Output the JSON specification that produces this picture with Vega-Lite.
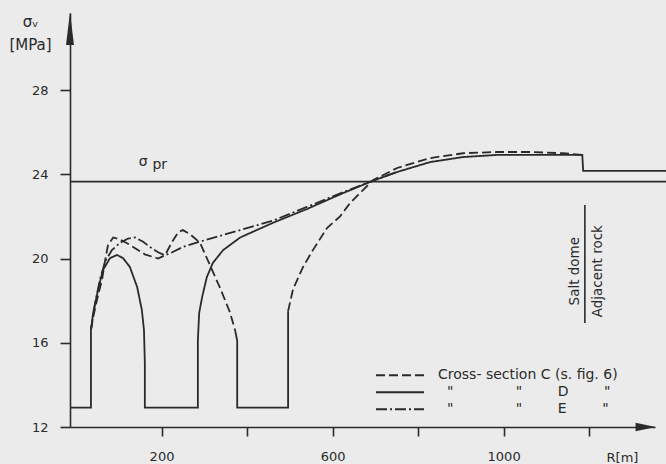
{
  "$schema": "https://vega.github.io/schema/vega-lite/v6.json",
  "width": 585,
  "height": 414,
  "autosize": {"type": "none"},
  "padding": {"left": 70, "top": 13, "right": 11, "bottom": 37},
  "background": "#ebebeb",
  "config": {
    "view": {"stroke": null},
    "font": "DejaVu Sans",
    "axis": {
      "domainColor": "#2a2a2a", "domainWidth": 1.6, "tickColor": "#2a2a2a", "tickWidth": 1.6,
      "labelColor": "#2a2a2a", "labelFontSize": 13, "titleColor": "#2a2a2a", "titleFontSize": 13,
      "titleFontWeight": "normal", "grid": false
    }
  },
  "datasets": {
    "curves": [
      {"s": "D", "seg": "D", "R": -14, "v": 12.92}, {"s": "D", "seg": "D", "R": 35, "v": 12.92},
      {"s": "D", "seg": "D", "R": 35, "v": 16.61}, {"s": "D", "seg": "D", "R": 40, "v": 17.41},
      {"s": "D", "seg": "D", "R": 51.5, "v": 18.5}, {"s": "D", "seg": "D", "R": 63, "v": 19.45},
      {"s": "D", "seg": "D", "R": 79.5, "v": 20.02}, {"s": "D", "seg": "D", "R": 96, "v": 20.17},
      {"s": "D", "seg": "D", "R": 110, "v": 20.02}, {"s": "D", "seg": "D", "R": 126, "v": 19.6},
      {"s": "D", "seg": "D", "R": 143, "v": 18.65}, {"s": "D", "seg": "D", "R": 154, "v": 17.56},
      {"s": "D", "seg": "D", "R": 159, "v": 16.61}, {"s": "D", "seg": "D", "R": 161, "v": 15.04},
      {"s": "D", "seg": "D", "R": 161, "v": 12.92}, {"s": "D", "seg": "D", "R": 285, "v": 12.92},
      {"s": "D", "seg": "D", "R": 285, "v": 16.1}, {"s": "D", "seg": "D", "R": 288, "v": 17.41},
      {"s": "D", "seg": "D", "R": 295, "v": 18.17}, {"s": "D", "seg": "D", "R": 306, "v": 19.12},
      {"s": "D", "seg": "D", "R": 320, "v": 19.79}, {"s": "D", "seg": "D", "R": 344, "v": 20.4},
      {"s": "D", "seg": "D", "R": 384, "v": 21.0}, {"s": "D", "seg": "D", "R": 461, "v": 21.7},
      {"s": "D", "seg": "D", "R": 540, "v": 22.35}, {"s": "D", "seg": "D", "R": 618, "v": 23.05},
      {"s": "D", "seg": "D", "R": 695, "v": 23.7}, {"s": "D", "seg": "D", "R": 751, "v": 24.11},
      {"s": "D", "seg": "D", "R": 828, "v": 24.58}, {"s": "D", "seg": "D", "R": 905, "v": 24.82},
      {"s": "D", "seg": "D", "R": 985, "v": 24.92}, {"s": "D", "seg": "D", "R": 1062, "v": 24.92},
      {"s": "D", "seg": "D", "R": 1139, "v": 24.92}, {"s": "D", "seg": "D", "R": 1184, "v": 24.92},
      {"s": "D", "seg": "D", "R": 1186, "v": 24.16}, {"s": "D", "seg": "D", "R": 1380, "v": 24.16},

      {"s": "C", "seg": "C1", "R": 35, "v": 16.61}, {"s": "C", "seg": "C1", "R": 40, "v": 17.2},
      {"s": "C", "seg": "C1", "R": 51, "v": 18.2}, {"s": "C", "seg": "C1", "R": 61, "v": 19.0},
      {"s": "C", "seg": "C1", "R": 68, "v": 19.9}, {"s": "C", "seg": "C1", "R": 75, "v": 20.65},
      {"s": "C", "seg": "C1", "R": 87, "v": 21.0}, {"s": "C", "seg": "C1", "R": 103, "v": 20.9},
      {"s": "C", "seg": "C1", "R": 126, "v": 20.65}, {"s": "C", "seg": "C1", "R": 161, "v": 20.2},
      {"s": "C", "seg": "C1", "R": 192, "v": 20.0}, {"s": "C", "seg": "C1", "R": 208, "v": 20.15},
      {"s": "C", "seg": "C1", "R": 225, "v": 20.8}, {"s": "C", "seg": "C1", "R": 239, "v": 21.25},
      {"s": "C", "seg": "C1", "R": 250, "v": 21.35}, {"s": "C", "seg": "C1", "R": 267, "v": 21.15},
      {"s": "C", "seg": "C1", "R": 290, "v": 20.75}, {"s": "C", "seg": "C1", "R": 313, "v": 19.7},
      {"s": "C", "seg": "C1", "R": 337, "v": 18.6}, {"s": "C", "seg": "C1", "R": 360, "v": 17.45},
      {"s": "C", "seg": "C1", "R": 372, "v": 16.6},

      {"s": "Cb", "seg": "Cb", "R": 372, "v": 16.6}, {"s": "Cb", "seg": "Cb", "R": 377, "v": 16.1},
      {"s": "Cb", "seg": "Cb", "R": 377, "v": 12.92}, {"s": "Cb", "seg": "Cb", "R": 496, "v": 12.92},
      {"s": "Cb", "seg": "Cb", "R": 496, "v": 17.5},

      {"s": "C", "seg": "C2", "R": 496, "v": 17.5}, {"s": "C", "seg": "C2", "R": 507.6, "v": 18.55},
      {"s": "C", "seg": "C2", "R": 531, "v": 19.6}, {"s": "C", "seg": "C2", "R": 554, "v": 20.4},
      {"s": "C", "seg": "C2", "R": 587, "v": 21.45}, {"s": "C", "seg": "C2", "R": 617.5, "v": 22.0},
      {"s": "C", "seg": "C2", "R": 641, "v": 22.64}, {"s": "C", "seg": "C2", "R": 671, "v": 23.25},
      {"s": "C", "seg": "C2", "R": 695, "v": 23.73}, {"s": "C", "seg": "C2", "R": 751, "v": 24.3},
      {"s": "C", "seg": "C2", "R": 828, "v": 24.77}, {"s": "C", "seg": "C2", "R": 905, "v": 25.0},
      {"s": "C", "seg": "C2", "R": 985, "v": 25.06}, {"s": "C", "seg": "C2", "R": 1062, "v": 25.06},
      {"s": "C", "seg": "C2", "R": 1139, "v": 25.0}, {"s": "C", "seg": "C2", "R": 1184, "v": 24.92},

      {"s": "E", "seg": "E", "R": 35, "v": 16.61}, {"s": "E", "seg": "E", "R": 44, "v": 17.8},
      {"s": "E", "seg": "E", "R": 56, "v": 19.0}, {"s": "E", "seg": "E", "R": 68, "v": 19.85},
      {"s": "E", "seg": "E", "R": 84, "v": 20.4}, {"s": "E", "seg": "E", "R": 103, "v": 20.75},
      {"s": "E", "seg": "E", "R": 122, "v": 20.95}, {"s": "E", "seg": "E", "R": 138, "v": 21.0},
      {"s": "E", "seg": "E", "R": 157, "v": 20.8}, {"s": "E", "seg": "E", "R": 173, "v": 20.55},
      {"s": "E", "seg": "E", "R": 192, "v": 20.3}, {"s": "E", "seg": "E", "R": 208, "v": 20.15},
      {"s": "E", "seg": "E", "R": 225, "v": 20.3}, {"s": "E", "seg": "E", "R": 250, "v": 20.55},
      {"s": "E", "seg": "E", "R": 306, "v": 20.9}, {"s": "E", "seg": "E", "R": 384, "v": 21.35},
      {"s": "E", "seg": "E", "R": 461, "v": 21.8}, {"s": "E", "seg": "E", "R": 540, "v": 22.45},
      {"s": "E", "seg": "E", "R": 618, "v": 23.1}, {"s": "E", "seg": "E", "R": 695, "v": 23.7},
      {"s": "E", "seg": "E", "R": 751, "v": 24.11}
    ],
    "pr": [{"R": -14, "v": 23.65}, {"R": 1380, "v": 23.65}],
    "sigma": [{"R": 157, "v": 24.58, "t": "σ"}, {"R": 196, "v": 24.42, "t": "pr"}],
    "rock": [{"R": 1167, "v": 19.4, "t": "Salt dome"}, {"R": 1221, "v": 19.4, "t": "Adjacent rock"}],
    "iface": [{"R": 1190, "v": 16.94, "v2": 22.54}],
    "yarrow": [{"R": -14, "v": 30.92}],
    "xarrow": [{"R": 1332, "v": 12}]
  },
  "layer": [
    {
      "data": {"name": "pr"},
      "mark": {"type": "line", "color": "#2a2a2a", "strokeWidth": 1.6},
      "encoding": {
        "x": {"field": "R", "type": "quantitative",
          "scale": {"domain": [-14, 1354], "nice": false, "zero": false},
          "axis": {"values": [200, 400, 600, 800, 1000, 1200],
            "labelExpr": "datum.value == 200 || datum.value == 600 || datum.value == 1000 ? datum.label : ''",
            "tickSize": 9, "labelPadding": 14, "format": "d",
            "title": "R[m]", "titleX": 552, "titleY": 24, "titleAnchor": "middle", "titleBaseline": "top", "titleAlign": "center"}},
        "y": {"field": "v", "type": "quantitative",
          "scale": {"domain": [12, 31.66], "nice": false, "zero": false},
          "axis": {"values": [12, 16, 20, 24, 28], "tickSize": 10, "labelPadding": 12,
            "title": ["σᵥ", "[MPa]"], "titleAngle": 0, "titleX": -40, "titleY": 1, "titleFontSize": 15,
            "titleAlign": "center", "titleBaseline": "top", "titleLineHeight": 23, "titleAnchor": "start"}}
      }
    },
    {
      "data": {"name": "curves"},
      "mark": {"type": "line", "color": "#2a2a2a", "strokeWidth": 1.8},
      "encoding": {
        "x": {"field": "R", "type": "quantitative"},
        "y": {"field": "v", "type": "quantitative"},
        "detail": {"field": "seg"},
        "order": {"value": null},
        "strokeDash": {"field": "s", "type": "nominal",
          "scale": {"domain": ["C", "Cb", "D", "E"], "range": [[9, 4], [1, 0], [1, 0], [11, 3, 2, 3]]},
          "legend": {"values": ["C", "D", "E"], "orient": "none", "legendX": 305, "legendY": 354,
            "title": null, "symbolType": "stroke", "symbolSize": 2304, "symbolStrokeWidth": 2,
            "symbolStrokeColor": "#2a2a2a", "labelFontSize": 14, "labelColor": "#2a2a2a", "labelOffset": 13,
            "labelLimit": 0, "rowPadding": 0, "clipHeight": 16.5, "padding": 0,
            "labelExpr": "datum.label == 'C' ? 'Cross- section C (s. fig. 6)' : datum.label == 'D' ? '\u200b\u00a0\u00a0\"\u00a0\u00a0\u00a0\u00a0\u00a0\u00a0\u00a0\u00a0\u00a0\u00a0\u00a0\u00a0\u00a0\u00a0\"\u00a0\u00a0\u00a0\u00a0\u00a0\u00a0\u00a0\u00a0D\u00a0\u00a0\u00a0\u00a0\u00a0\u00a0\u00a0\u00a0\"' : '\u200b\u00a0\u00a0\"\u00a0\u00a0\u00a0\u00a0\u00a0\u00a0\u00a0\u00a0\u00a0\u00a0\u00a0\u00a0\u00a0\u00a0\"\u00a0\u00a0\u00a0\u00a0\u00a0\u00a0\u00a0\u00a0E\u00a0\u00a0\u00a0\u00a0\u00a0\u00a0\u00a0\u00a0\"'"}}
      }
    },
    {
      "data": {"name": "sigma"},
      "mark": {"type": "text", "color": "#2a2a2a", "fontSize": 14, "align": "center", "baseline": "middle"},
      "encoding": {
        "x": {"field": "R", "type": "quantitative"},
        "y": {"field": "v", "type": "quantitative"},
        "text": {"field": "t"}
      }
    },
    {
      "data": {"name": "rock"},
      "mark": {"type": "text", "color": "#2a2a2a", "fontSize": 13.5, "align": "center", "baseline": "middle", "angle": 270},
      "encoding": {
        "x": {"field": "R", "type": "quantitative"},
        "y": {"field": "v", "type": "quantitative"},
        "text": {"field": "t"}
      }
    },
    {
      "data": {"name": "iface"},
      "mark": {"type": "rule", "color": "#2a2a2a", "strokeWidth": 1.6},
      "encoding": {
        "x": {"field": "R", "type": "quantitative"},
        "y": {"field": "v", "type": "quantitative"},
        "y2": {"field": "v2"}
      }
    },
    {
      "data": {"name": "yarrow"},
      "mark": {"type": "point", "shape": "M -0.24 1 L 0 -1 L 0.24 1 Z", "size": 1089, "filled": true, "color": "#2a2a2a", "opacity": 1, "strokeWidth": 0},
      "encoding": {
        "x": {"field": "R", "type": "quantitative"},
        "y": {"field": "v", "type": "quantitative"}
      }
    },
    {
      "data": {"name": "xarrow"},
      "mark": {"type": "point", "shape": "M 1 0 L -1 -0.42 L -1 0.42 Z", "size": 400, "filled": true, "color": "#2a2a2a", "opacity": 1, "strokeWidth": 0},
      "encoding": {
        "x": {"field": "R", "type": "quantitative"},
        "y": {"field": "v", "type": "quantitative"}
      }
    }
  ]
}
